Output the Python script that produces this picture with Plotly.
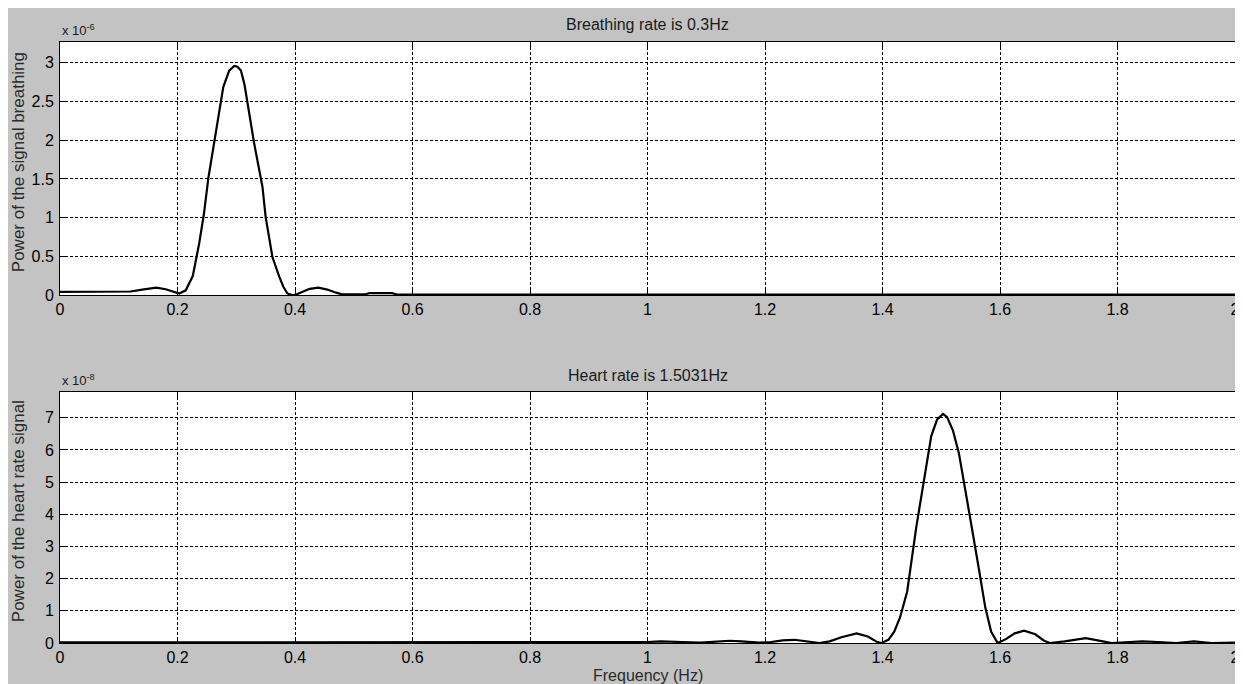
import plotly.graph_objects as go

# ---------------- data ----------------
# Breathing spectrum (power in units of 1e-6)
breath_freq = [0.0, 0.06, 0.12, 0.14, 0.164, 0.18, 0.192, 0.203, 0.214, 0.226, 0.237,
               0.245, 0.2525, 0.263, 0.271, 0.278, 0.288, 0.2966, 0.302, 0.308, 0.314,
               0.319, 0.325, 0.3305, 0.3375, 0.3446, 0.350, 0.3616, 0.373, 0.38, 0.387,
               0.395, 0.40, 0.41, 0.425, 0.44, 0.455, 0.47, 0.48, 0.50, 0.52, 0.527,
               0.565, 0.572, 0.60, 1.0, 1.5, 2.0]
breath_power = [0.04, 0.04, 0.045, 0.07, 0.095, 0.075, 0.045, 0.02, 0.06, 0.245, 0.67,
                1.05, 1.51, 2.0, 2.38, 2.69, 2.9, 2.96, 2.95, 2.9, 2.72,
                2.48, 2.22, 1.96, 1.68, 1.40, 1.01, 0.49, 0.24, 0.11, 0.02,
                0.0, 0.0, 0.03, 0.08, 0.094, 0.07, 0.03, 0.01, 0.008, 0.008, 0.025,
                0.025, 0.008, 0.005, 0.005, 0.005, 0.005]

# Heart-rate spectrum (power in units of 1e-8)
heart_freq = [0.0, 0.5, 0.98, 1.0, 1.022, 1.045, 1.06, 1.09, 1.12, 1.14, 1.16, 1.19,
              1.21, 1.23, 1.25, 1.27, 1.293, 1.31, 1.33, 1.356, 1.375, 1.39, 1.398,
              1.41, 1.42, 1.43, 1.442, 1.4575, 1.47, 1.483, 1.493, 1.503, 1.51, 1.52,
              1.53, 1.54, 1.55, 1.565, 1.575, 1.585, 1.596, 1.61, 1.625, 1.641, 1.66,
              1.675, 1.685, 1.71, 1.746, 1.775, 1.79, 1.82, 1.842, 1.87, 1.9, 1.93,
              1.96, 2.0]
heart_power = [0.02, 0.02, 0.02, 0.03, 0.05, 0.05, 0.03, 0.01, 0.04, 0.07, 0.05, 0.01,
               0.03, 0.08, 0.1, 0.06, 0.0, 0.05, 0.18, 0.30, 0.2, 0.04, 0.0,
               0.1, 0.35, 0.8, 1.6, 3.6, 5.0, 6.43, 6.95, 7.12, 7.02, 6.6,
               5.9, 4.9, 3.8, 2.2, 1.1, 0.35, 0.0, 0.12, 0.3, 0.38, 0.27,
               0.07, 0.0, 0.05, 0.15, 0.05, 0.0, 0.03, 0.05, 0.03, 0.0, 0.05,
               0.0, 0.01]

x_ticks = [0.0, 0.2, 0.4, 0.6, 0.8, 1.0, 1.2, 1.4, 1.6, 1.8, 2.0]
x_tick_labels = ["0", "0.2", "0.4", "0.6", "0.8", "1", "1.2", "1.4", "1.6", "1.8", "2"]
top_y_ticks = [0, 0.5, 1, 1.5, 2, 2.5, 3]
top_y_labels = ["0", "0.5", "1", "1.5", "2", "2.5", "3"]
bot_y_ticks = [0, 1, 2, 3, 4, 5, 6, 7]
bot_y_labels = ["0", "1", "2", "3", "4", "5", "6", "7"]

top_title = "Breathing rate is 0.3Hz"
bot_title = "Heart rate is 1.5031Hz"
top_ylabel = "Power of the signal breathing"
bot_ylabel = "Power of the heart rate signal"
x_label = "Frequency (Hz)"

# ---------------- figure ----------------
GRAY = "#c3c3c3"
FONT = "Liberation Sans, Arial, sans-serif"
OFF = 8  # page body margin

W = 1243 - OFF
H = 684 - OFF
ml = 60 - OFF
mt = 42 - OFF
mr = W - (1240 - OFF)
mb = H - (643 - OFF)
ph = H - mt - mb
pw = W - ml - mr
top_dom = [(643 - 295) / ph, 1.0]
bot_dom = [0.0, (643 - 392) / ph]

fig = go.Figure()
fig.add_trace(go.Scatter(x=breath_freq, y=breath_power, mode="lines",
                         line=dict(color="black", width=2.2), xaxis="x", yaxis="y",
                         showlegend=False, hoverinfo="skip"))
fig.add_trace(go.Scatter(x=heart_freq, y=heart_power, mode="lines",
                         line=dict(color="black", width=2.2), xaxis="x2", yaxis="y2",
                         showlegend=False, hoverinfo="skip"))

axis_common = dict(
    showline=True, linecolor="black", linewidth=1, mirror="allticks",
    ticks="inside", ticklen=5, tickcolor="black", tickwidth=1,
    showgrid=True, gridcolor="black", gridwidth=1, griddash="3px,2px",
    zeroline=False, tickfont=dict(family=FONT, size=16, color="black"),
    ticklabeloverflow="allow",
)

fig.update_layout(
    width=W, height=H,
    margin=dict(l=ml, r=mr, t=mt, b=mb),
    paper_bgcolor=GRAY, plot_bgcolor="white",
    font=dict(family=FONT, color="#1a1a1a"),
    xaxis=dict(domain=[0, 1], anchor="y", range=[0, 2], tickvals=x_ticks,
               ticktext=x_tick_labels, **axis_common),
    yaxis=dict(domain=top_dom, anchor="x", range=[0, 3.27], tickvals=top_y_ticks,
               ticktext=top_y_labels, ticklabelstandoff=2, **axis_common),
    xaxis2=dict(domain=[0, 1], anchor="y2", range=[0, 2], tickvals=x_ticks,
                ticktext=x_tick_labels, **axis_common),
    yaxis2=dict(domain=bot_dom, anchor="x2", range=[0, 7.8], tickvals=bot_y_ticks,
                ticktext=bot_y_labels, ticklabelstandoff=2, **axis_common),
)

def px_y(ref_y):
    return (H - mb - (ref_y - OFF)) / ph

def px_x(ref_x):
    return ((ref_x - OFF) - ml) / pw

ann = []
ann.append(dict(text=top_title, x=0.5, y=px_y(24), xref="paper", yref="paper",
                showarrow=False, xanchor="center", yanchor="middle",
                font=dict(family=FONT, size=16, color="#1a1a1a")))
ann.append(dict(text=bot_title, x=0.5, y=px_y(376), xref="paper", yref="paper",
                showarrow=False, xanchor="center", yanchor="middle",
                font=dict(family=FONT, size=16, color="#1a1a1a")))
ann.append(dict(text="x 10<sup>-6</sup>", x=0, y=px_y(30), xref="paper", yref="paper",
                showarrow=False, xanchor="left", yanchor="middle",
                font=dict(family=FONT, size=13, color="#1a1a1a")))
ann.append(dict(text="x 10<sup>-8</sup>", x=0, y=px_y(380), xref="paper", yref="paper",
                showarrow=False, xanchor="left", yanchor="middle",
                font=dict(family=FONT, size=13, color="#1a1a1a")))
ann.append(dict(text=top_ylabel, x=px_x(18), y=px_y(162), xref="paper", yref="paper",
                showarrow=False, textangle=-90, xanchor="center", yanchor="middle",
                font=dict(family=FONT, size=17, color="#2a2a2a")))
ann.append(dict(text=bot_ylabel, x=px_x(18), y=px_y(511), xref="paper", yref="paper",
                showarrow=False, textangle=-90, xanchor="center", yanchor="middle",
                font=dict(family=FONT, size=17, color="#2a2a2a")))
ann.append(dict(text=x_label, x=0.5, y=px_y(675), xref="paper", yref="paper",
                showarrow=False, xanchor="center", yanchor="middle",
                font=dict(family=FONT, size=16, color="#2a2a2a")))
fig.update_layout(annotations=ann)

fig.write_html("out.html")
